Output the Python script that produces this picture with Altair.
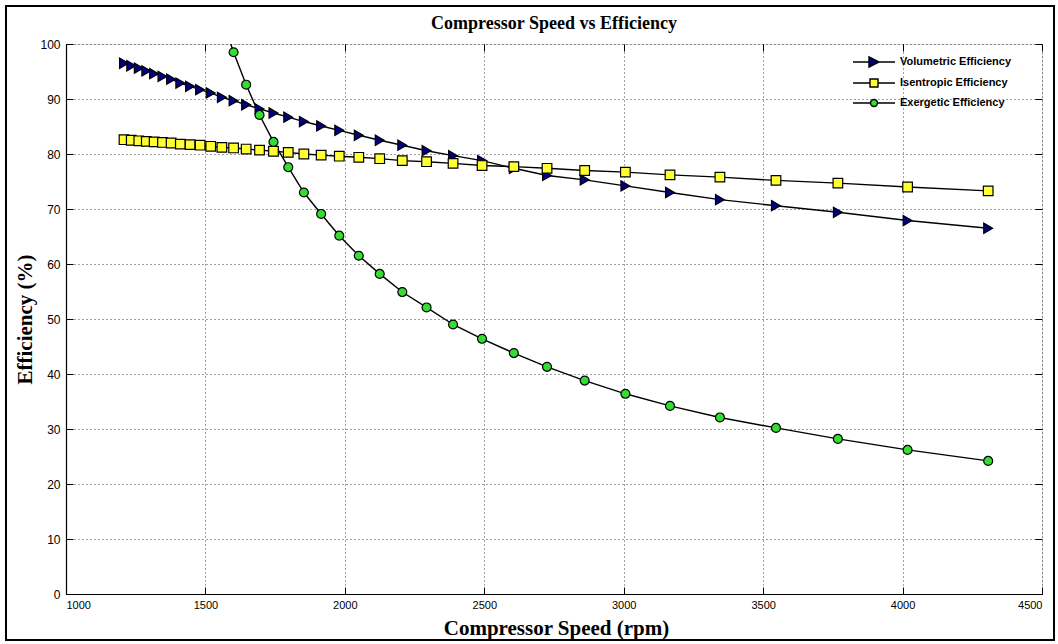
import altair as alt
import pandas as pd

# ---- data ----
rpm = [1208, 1234, 1261, 1288, 1316, 1346, 1377, 1410, 1445, 1481, 1519, 1559,
       1601, 1646, 1694, 1744, 1797, 1853, 1915, 1980, 2050, 2125, 2206, 2293,
       2388, 2492, 2606, 2725, 2860, 3006, 3166, 3345, 3546, 3768, 4018, 4307]

volumetric = [96.5, 96.05, 95.6, 95.1, 94.6, 94.1, 93.6, 92.9, 92.3, 91.7, 91.1, 90.3,
              89.7, 88.95, 88.2, 87.45, 86.7, 85.9, 85.1, 84.3, 83.4, 82.5, 81.6, 80.6,
              79.7, 78.8, 77.4, 76.1, 75.3, 74.2, 73.0, 71.7, 70.6, 69.4, 67.9, 66.5]

isentropic = [82.6, 82.5, 82.4, 82.3, 82.2, 82.1, 82.0, 81.8, 81.7, 81.6, 81.4, 81.2,
              81.1, 80.9, 80.7, 80.5, 80.3, 80.0, 79.8, 79.6, 79.4, 79.15, 78.8, 78.6,
              78.3, 77.9, 77.7, 77.4, 77.0, 76.7, 76.2, 75.8, 75.2, 74.7, 74.0, 73.3]

exergetic_rpm = [1559, 1601, 1646, 1694, 1744, 1797, 1853, 1915, 1980, 2050, 2125, 2206,
                 2293, 2388, 2492, 2606, 2725, 2860, 3006, 3166, 3345, 3546, 3768, 4018, 4307]
exergetic = [104.8, 98.5, 92.6, 87.1, 82.2, 77.6, 73.0, 69.1, 65.15, 61.5, 58.2, 54.9,
             52.1, 49.0, 46.4, 43.8, 41.3, 38.8, 36.4, 34.2, 32.1, 30.2, 28.2, 26.2, 24.2]

series_names = ["Volumetric Efficiency", "Isentropic Efficiency", "Exergetic Efficiency"]
x_ticks = [1000, 1500, 2000, 2500, 3000, 3500, 4000, 4500]
y_ticks = [0, 10, 20, 30, 40, 50, 60, 70, 80, 90, 100]

# ---- styles ----
fills = ["#000080", "#ffff33", "#33dd33"]
marker_shapes = ["triangle-right", "square", "circle"]
marker_sizes = [105, 80, 48]
legend_paths = [
    "M-4.2,0L-1,0M1,0L4.2,0M-1,-1L1,0L-1,1Z",
    "M-4.2,0L-0.8,0M0.8,0L4.2,0M-0.8,-0.8L0.8,-0.8L0.8,0.8L-0.8,0.8Z",
    "M-4.2,0L-0.7,0M0.7,0L4.2,0M-0.7,0A0.7,0.7,0,1,1,0.7,0A0.7,0.7,0,1,1,-0.7,0Z",
]

rows = []
for name, xs, ys in [(series_names[0], rpm, volumetric),
                     (series_names[1], rpm, isentropic),
                     (series_names[2], exergetic_rpm, exergetic)]:
    for i, (a, b) in enumerate(zip(xs, ys)):
        rows.append({"series": name, "rpm": a, "eff": b, "order": i})
df = pd.DataFrame(rows)

W, H = 976, 550
xscale = alt.Scale(domain=[1000, 4500], nice=False, zero=False)
yscale = alt.Scale(domain=[0, 100], nice=False)
LABEL_FONT = "Liberation Sans"
SERIF = "Liberation Serif"


def tick_axis(orient):
    return alt.Axis(orient=orient, offset=-7, tickSize=7, ticks=True, labels=False,
                    domain=False, grid=False, title=None, tickColor="black",
                    tickWidth=1, values=x_ticks if orient in ("top", "bottom") else y_ticks)


base = alt.Chart(df)

lines = base.mark_line(color="black", strokeWidth=1.4, clip=True).encode(
    x=alt.X("rpm:Q", scale=xscale,
            axis=alt.Axis(orient="bottom", values=x_ticks, format="d", grid=True,
                          gridDash=[1, 3], gridColor="black", gridOpacity=0.75, ticks=False,
                          domain=True, domainColor="black", domainWidth=1.2, labelPadding=5,
                          labelFontSize=11,
                          title="Compressor Speed (rpm)", titleFont=SERIF, titleFontSize=21,
                          titleFontWeight="bold", titleX=490, titleY=34,
                          titleBaseline="middle", titleAlign="center", titleAngle=0)),
    y=alt.Y("eff:Q", scale=yscale,
            axis=alt.Axis(orient="left", values=y_ticks, format="d", grid=True,
                          gridDash=[1, 3], gridColor="black", gridOpacity=0.75, ticks=False,
                          domain=True, domainColor="black", domainWidth=1.2, labelPadding=6,
                          labelFontSize=12,
                          title="Efficiency (%)", titleFont=SERIF, titleFontSize=21,
                          titleFontWeight="bold", titleX=-41, titleY=275,
                          titleBaseline="middle", titleAlign="center", titleAngle=-90)),
    detail="series:N",
    order="order:Q",
)

points = base.mark_point(filled=True, stroke="black", strokeWidth=1.2, opacity=1,
                         clip=True).encode(
    x=alt.X("rpm:Q", scale=xscale, axis=tick_axis("bottom")),
    y=alt.Y("eff:Q", scale=yscale, axis=tick_axis("left")),
    fill=alt.Fill("series:N", scale=alt.Scale(domain=series_names, range=fills), legend=None),
    shape=alt.Shape("series:N", scale=alt.Scale(domain=series_names, range=marker_shapes),
                    legend=None),
    size=alt.Size("series:N", scale=alt.Scale(domain=series_names, range=marker_sizes),
                  legend=None),
)

leg = alt.Legend(title=None, orient="none", legendX=802, legendY=12, symbolSize=100,
                 symbolStrokeColor="black", symbolStrokeWidth=1.4, labelFont=LABEL_FONT,
                 labelFontSize=11, labelFontWeight="bold", labelColor="black",
                 labelOffset=20, rowPadding=6, padding=0, symbolOpacity=1)

legend_layer = base.transform_filter("false").mark_point(filled=True).encode(
    x=alt.X("rpm:Q", scale=xscale, axis=tick_axis("top")),
    y=alt.Y("eff:Q", scale=yscale, axis=tick_axis("right")),
    fill=alt.Fill("series:N", scale=alt.Scale(domain=series_names, range=fills), legend=leg),
    shape=alt.Shape("series:N", scale=alt.Scale(domain=series_names, range=legend_paths),
                    legend=leg),
    stroke=alt.Stroke("series:N", scale=alt.Scale(domain=series_names,
                                                  range=["black", "black", "black"]),
                      legend=leg),
)

frame = alt.Chart(pd.DataFrame({"k": [0]})).mark_rect(
    fillOpacity=0, stroke="black", strokeWidth=2, clip=False
).encode(x=alt.value(-60), x2=alt.value(988), y=alt.value(-38), y2=alt.value(596))

chart = alt.layer(frame, lines, points, legend_layer).resolve_scale(
    fill="independent", shape="independent", stroke="independent"
).resolve_axis(
    x="independent", y="independent"
).properties(
    width=W, height=H,
    padding={"left": 5, "top": 5, "right": 2, "bottom": 2},
    title=alt.TitleParams("Compressor Speed vs Efficiency", font=SERIF, fontSize=18,
                          fontWeight="bold", anchor="middle", frame="group", offset=-28,
                          color="black"),
).configure_axis(
    labelFont=LABEL_FONT, labelColor="#222",
).configure_view(
    stroke="#777", strokeWidth=1.5,
).configure(background="white")

chart.save("out.html", embed_options={"renderer": "svg", "actions": False})
